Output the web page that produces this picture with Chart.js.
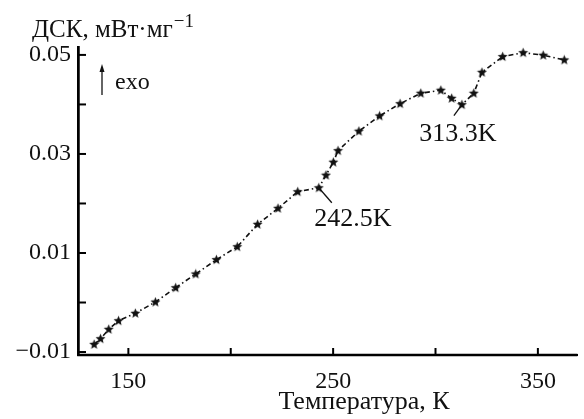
<!DOCTYPE html>
<html>
<head>
<meta charset="utf-8">
<script src="https://cdn.jsdelivr.net/npm/chart.js@4/dist/chart.umd.min.js"></script>
<style>
html,body{margin:0;padding:0;background:#fff;}
#wrap{width:584px;height:419px;position:relative;}
</style>
</head>
<body>
<div id="wrap"><canvas id="c" width="584" height="419"></canvas></div>
<script>
// ---- data ----
const temperatures = [133.3,136.4,140.4,145.2,153.4,163.2,173.1,182.9,193.0,203.2,213.1,223.1,232.7,243.0,246.5,250.1,252.4,262.6,272.7,282.7,292.8,302.6,307.9,312.9,318.7,322.7,332.8,342.8,352.6,362.9];
const dscValues = [-0.00845,-0.00731,-0.00541,-0.00368,-0.00218,0.0001,0.00299,0.00576,0.00865,0.01127,0.0158,0.01903,0.02238,0.02317,0.02572,0.02834,0.03067,0.03461,0.03768,0.04016,0.04226,0.04287,0.04125,0.03996,0.04226,0.0465,0.04966,0.05046,0.04994,0.04899];
const xTickValues = [150,200,250,300,350];
const xTickLabels = ['150','','250','','350'];
const yTickValues = [-0.01,0,0.01,0.02,0.03,0.04,0.05];
const yTickLabels = ['\u22120.01','','0.01','','0.03','','0.05'];
const annotationLabels = ['242.5K','313.3K'];
const annotationTemps = [243.0,312.9];
const annotationValues = [0.02317,0.03996];

const FONT = '"Liberation Serif", "Times New Roman", serif';
const FS = 24;

const star = document.createElement('canvas');
star.width = 11; star.height = 11;
(function(){
  const g = star.getContext('2d');
  g.fillStyle = '#111';
  g.beginPath();
  for (let i = 0; i < 10; i++) {
    const r = i % 2 === 0 ? 5.2 : 2.3;
    const a = -Math.PI/2 + i*Math.PI/5;
    const px = 5.5 + r*Math.cos(a), py = 5.7 + r*Math.sin(a);
    if (i === 0) g.moveTo(px,py); else g.lineTo(px,py);
  }
  g.closePath(); g.fill();
})();

function drawAxes(chart) {
  const ctx = chart.ctx;
  const xs = chart.scales.x, ys = chart.scales.y;
  const a = chart.chartArea;
  ctx.save();
  ctx.setLineDash([]);
  ctx.strokeStyle = '#000';
  ctx.lineWidth = 2.5;
  ctx.beginPath();
  ctx.moveTo(a.left + 0.5, a.top - 1);
  ctx.lineTo(a.left + 0.5, a.bottom);
  ctx.lineTo(a.right, a.bottom);
  ctx.stroke();
  ctx.lineWidth = 2;
  xTickValues.forEach(v => {
    const px = xs.getPixelForValue(v);
    ctx.beginPath(); ctx.moveTo(px, a.bottom); ctx.lineTo(px, a.bottom - 7); ctx.stroke();
  });
  yTickValues.forEach(v => {
    const py = ys.getPixelForValue(v);
    ctx.beginPath(); ctx.moveTo(a.left, py); ctx.lineTo(a.left + 8, py); ctx.stroke();
  });
  ctx.restore();
}

const decor = {
  id: 'decor',
  afterDraw(chart) {
    drawAxes(chart);
    const ctx = chart.ctx;
    const xs = chart.scales.x, ys = chart.scales.y;
    const area = chart.chartArea;
    ctx.save();
    ctx.setLineDash([]);
    ctx.strokeStyle = '#111'; ctx.fillStyle = '#111';
    ctx.lineWidth = 1.3;
    ctx.font = '26px ' + FONT;
    ctx.textBaseline = 'middle'; ctx.textAlign = 'center';
    const offs = [[13,15,34,31],[-8,11,-4,30]];
    annotationLabels.forEach((t,i) => {
      const px = xs.getPixelForValue(annotationTemps[i]);
      const py = ys.getPixelForValue(annotationValues[i]);
      const o = offs[i];
      ctx.beginPath(); ctx.moveTo(px, py); ctx.lineTo(px + o[0], py + o[1]); ctx.stroke();
      ctx.fillText(t, px + o[2], py + o[3]);
    });
    const ax = area.left + 24;
    ctx.beginPath(); ctx.moveTo(ax, 95); ctx.lineTo(ax, 70); ctx.stroke();
    ctx.beginPath(); ctx.moveTo(ax, 64); ctx.lineTo(ax - 2.5, 72); ctx.lineTo(ax + 2.5, 72); ctx.closePath(); ctx.fill();
    ctx.textAlign = 'left';
    ctx.textBaseline = 'alphabetic';
    ctx.font = FS + 'px ' + FONT;
    ctx.fillText('exo', area.left + 37, 89);
    const yt = 'ДСК, мВт·мг';
    ctx.font = '25px ' + FONT;
    ctx.fillText(yt, 32, 37);
    const w = ctx.measureText(yt).width;
    ctx.font = '19px ' + FONT;
    ctx.fillText('\u22121', 32 + w + 1, 27);
    ctx.font = '26px ' + FONT;
    ctx.textAlign = 'center';
    ctx.fillText('Температура, К', 364, 409);
    ctx.restore();
  }
};

new Chart(document.getElementById('c'), {
  type: 'line',
  data: {
    datasets: [{
      data: temperatures.map((t,i) => ({x: t, y: dscValues[i]})),
      borderColor: '#111',
      borderWidth: 1.6,
      borderDash: [5,3,1.5,3],
      pointStyle: star,
      pointRadius: 5,
      tension: 0,
      fill: false
    }]
  },
  options: {
    responsive: false,
    animation: false,
    events: [],
    layout: { padding: { top: 47, right: 0, left: 0, bottom: 0 } },
    plugins: { legend: { display: false }, tooltip: { enabled: false } },
    scales: {
      x: {
        type: 'linear',
        min: 125.4, max: 369.3,
        afterFit(s) { s.height = 64; },
        afterBuildTicks(s) { s.ticks = xTickValues.map(v => ({value: v})); },
        grid: { display: true, drawOnChartArea: false, drawTicks: false, color: '#000' },
        border: { display: true, color: '#000', width: 2 },
        ticks: {
          color: '#111',
          font: { family: FONT, size: FS },
          padding: 12,
          maxRotation: 0,
          autoSkip: false,
          callback: (v) => { const i = xTickValues.indexOf(v); return i >= 0 ? xTickLabels[i] : ''; }
        }
      },
      y: {
        type: 'linear',
        min: -0.0106, max: 0.0516,
        afterFit(s) { s.width = 78; },
        afterBuildTicks(s) { s.ticks = yTickValues.map(v => ({value: v})); },
        grid: { display: true, drawOnChartArea: false, drawTicks: false, color: '#000' },
        border: { display: true, color: '#000', width: 2 },
        ticks: {
          color: '#111',
          font: { family: FONT, size: FS },
          padding: 7,
          autoSkip: false,
          callback: (v) => { const i = yTickValues.findIndex(t => Math.abs(t - v) < 1e-9); return i >= 0 ? yTickLabels[i] : ''; }
        }
      }
    }
  },
  plugins: [decor]
});
</script>
</body>
</html>
